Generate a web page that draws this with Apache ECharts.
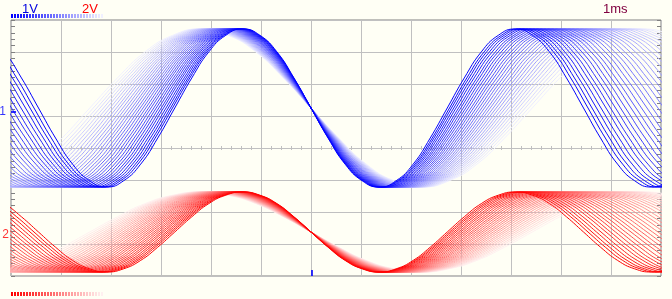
<!DOCTYPE html>
<html><head><meta charset="utf-8">
<script src="https://cdn.jsdelivr.net/npm/echarts@6/dist/echarts.min.js"></script>
<style>html,body{margin:0;padding:0;background:#fffff5;}#c{width:672px;height:299px;}</style>
</head><body><div id="c"></div>
<script>
// time base: 1 ms/div, trigger at 0 ms; screen spans -6 .. 7 ms
const timeMin = -6, timeMax = 7;
// periods (ms) of the persisted sweeps, newest (darkest) first
const tracePeriodsMs = [5.45, 5.54, 5.62, 5.71, 5.80, 5.90, 5.99, 6.09, 6.19, 6.29, 6.40, 6.50, 6.61, 6.72, 6.83, 6.94,
                        7.06, 7.17, 7.29, 7.41, 7.53, 7.66, 7.78, 7.91, 8.04, 8.17, 8.30, 8.44, 8.57, 8.71, 8.85];
// one cycle of the normalized waveform, starting at the falling trigger crossing (16 samples)
const waveShape = [0, -0.38, -0.71, -0.92, -1, -0.92, -0.71, -0.38, 0, 0.38, 0.71, 0.92, 1, 0.92, 0.71, 0.38];
// channel centres / amplitudes / ground markers, in screen divisions
const ch1Center = 1.25, ch1Amp = 2.47, ch1Marker = 1.125;
const ch2Center = -2.625, ch2Amp = 1.25, ch2Marker = -2.72;
const ch1Scale = '1V', ch2Scale = '2V', timeScale = '1ms';
const channelNames = ['1', '2'];

function traceData(P, center, amp) {
  const step = P / 16;
  const k0 = Math.floor(timeMin / step) - 1, k1 = Math.ceil(timeMax / step) + 1;
  const d = [];
  for (let k = k0; k <= k1; k++) {
    const v = waveShape[((k % 16) + 16) % 16];
    d.push([k * step, center + amp * v]);
  }
  return d;
}
const N = tracePeriodsMs.length;
function shade(i, ch) {
  const t = Math.round(255 * 0.94 * i / (N - 1));
  return ch === 1 ? 'rgb(' + t + ',' + t + ',255)' : 'rgb(255,' + t + ',' + t + ')';
}

const series = [];
for (let i = N - 1; i >= 0; i--) {
  series.push({type: 'line', data: traceData(tracePeriodsMs[i], ch1Center, ch1Amp), smooth: true, showSymbol: false,
    lineStyle: {width: 1, color: shade(i, 1)}, silent: true, z: 3});
  series.push({type: 'line', data: traceData(tracePeriodsMs[i], ch2Center, ch2Amp), smooth: true, showSymbol: false,
    lineStyle: {width: 1, color: shade(i, 2)}, silent: true, z: 3});
}
// trigger marker
series.push({type: 'scatter', data: [[0, -4]], symbol: 'rect', symbolSize: [2, 6], symbolOffset: [1, -3],
  itemStyle: {color: '#0000ff'}, z: 5, silent: true});
// channel markers
series.push({type: 'scatter', data: [[timeMin, ch1Marker]], symbol: 'rect', symbolSize: [5, 2], symbolOffset: [2.5, 0],
  itemStyle: {color: '#0000ff'}, z: 5, silent: true,
  label: {show: true, formatter: channelNames[0], position: 'left', distance: 5, color: '#0000ff', fontSize: 12, fontFamily: 'Liberation Sans'}});
series.push({type: 'scatter', data: [[timeMin, ch2Marker]], symbolSize: 0,
  itemStyle: {color: '#ff0000'}, z: 5, silent: true,
  label: {show: true, formatter: channelNames[1], position: 'left', distance: 2, color: '#ff0000', fontSize: 12, fontFamily: 'Liberation Sans'}});

const graphic = [
  {type: 'text', left: 22, top: 3, style: {text: ch1Scale, fill: '#0000e0', font: '13px "Liberation Sans"'}},
  {type: 'text', left: 82, top: 3, style: {text: ch2Scale, fill: '#ff0000', font: '13px "Liberation Sans"'}},
  {type: 'text', left: 603, top: 3, style: {text: timeScale, fill: '#800040', font: '13px "Liberation Sans"'}}
];
for (let i = 0; i < N; i++) {
  graphic.push({type: 'rect', shape: {x: 11 + i * 3, y: 14, width: 2, height: 4}, style: {fill: shade(i, 1)}, silent: true});
  graphic.push({type: 'rect', shape: {x: 11 + i * 3, y: 292, width: 2, height: 4}, style: {fill: shade(i, 2)}, silent: true});
}

const gridCol = '#c0c0c0', frameCol = '#808080';
const xBase = {type: 'value', min: timeMin, max: timeMax, interval: 1, axisLabel: {show: false}};
const yBase = {type: 'value', min: -4, max: 4, interval: 1, axisLabel: {show: false}};
const chart = echarts.init(document.getElementById('c'), null, {renderer: 'canvas'});
chart.setOption({
  animation: false,
  backgroundColor: '#fffff5',
  grid: {left: 11, top: 20, width: 650, height: 256, show: true, borderColor: frameCol, borderWidth: 1, backgroundColor: 'transparent'},
  xAxis: [
    Object.assign({}, xBase, {position: 'bottom',
      axisLine: {show: true, onZero: true, lineStyle: {color: gridCol}},
      axisTick: {show: true, inside: false, length: 2, lineStyle: {color: gridCol}},
      minorTick: {show: true, splitNumber: 5, length: 2, lineStyle: {color: gridCol}},
      splitLine: {show: true, lineStyle: {color: gridCol}}}),
    Object.assign({}, xBase, {position: 'top',
      axisLine: {show: true, onZero: true, lineStyle: {color: gridCol}},
      axisTick: {show: true, inside: false, length: 2, lineStyle: {color: gridCol}},
      minorTick: {show: true, splitNumber: 5, length: 2, lineStyle: {color: gridCol}},
      splitLine: {show: false}})
  ],
  yAxis: [
    Object.assign({}, yBase, {position: 'left',
      axisLine: {show: false, onZero: false},
      axisTick: {show: true, inside: true, length: 4, lineStyle: {color: frameCol}},
      minorTick: {show: true, splitNumber: 5, length: 4, lineStyle: {color: frameCol}},
      splitLine: {show: true, lineStyle: {color: gridCol}}}),
    Object.assign({}, yBase, {position: 'right',
      axisLine: {show: false, onZero: false},
      axisTick: {show: true, inside: true, length: 4, lineStyle: {color: frameCol}},
      minorTick: {show: true, splitNumber: 5, length: 4, lineStyle: {color: frameCol}},
      splitLine: {show: false}})
  ],
  graphic: graphic,
  series: series
});
</script></body></html>
